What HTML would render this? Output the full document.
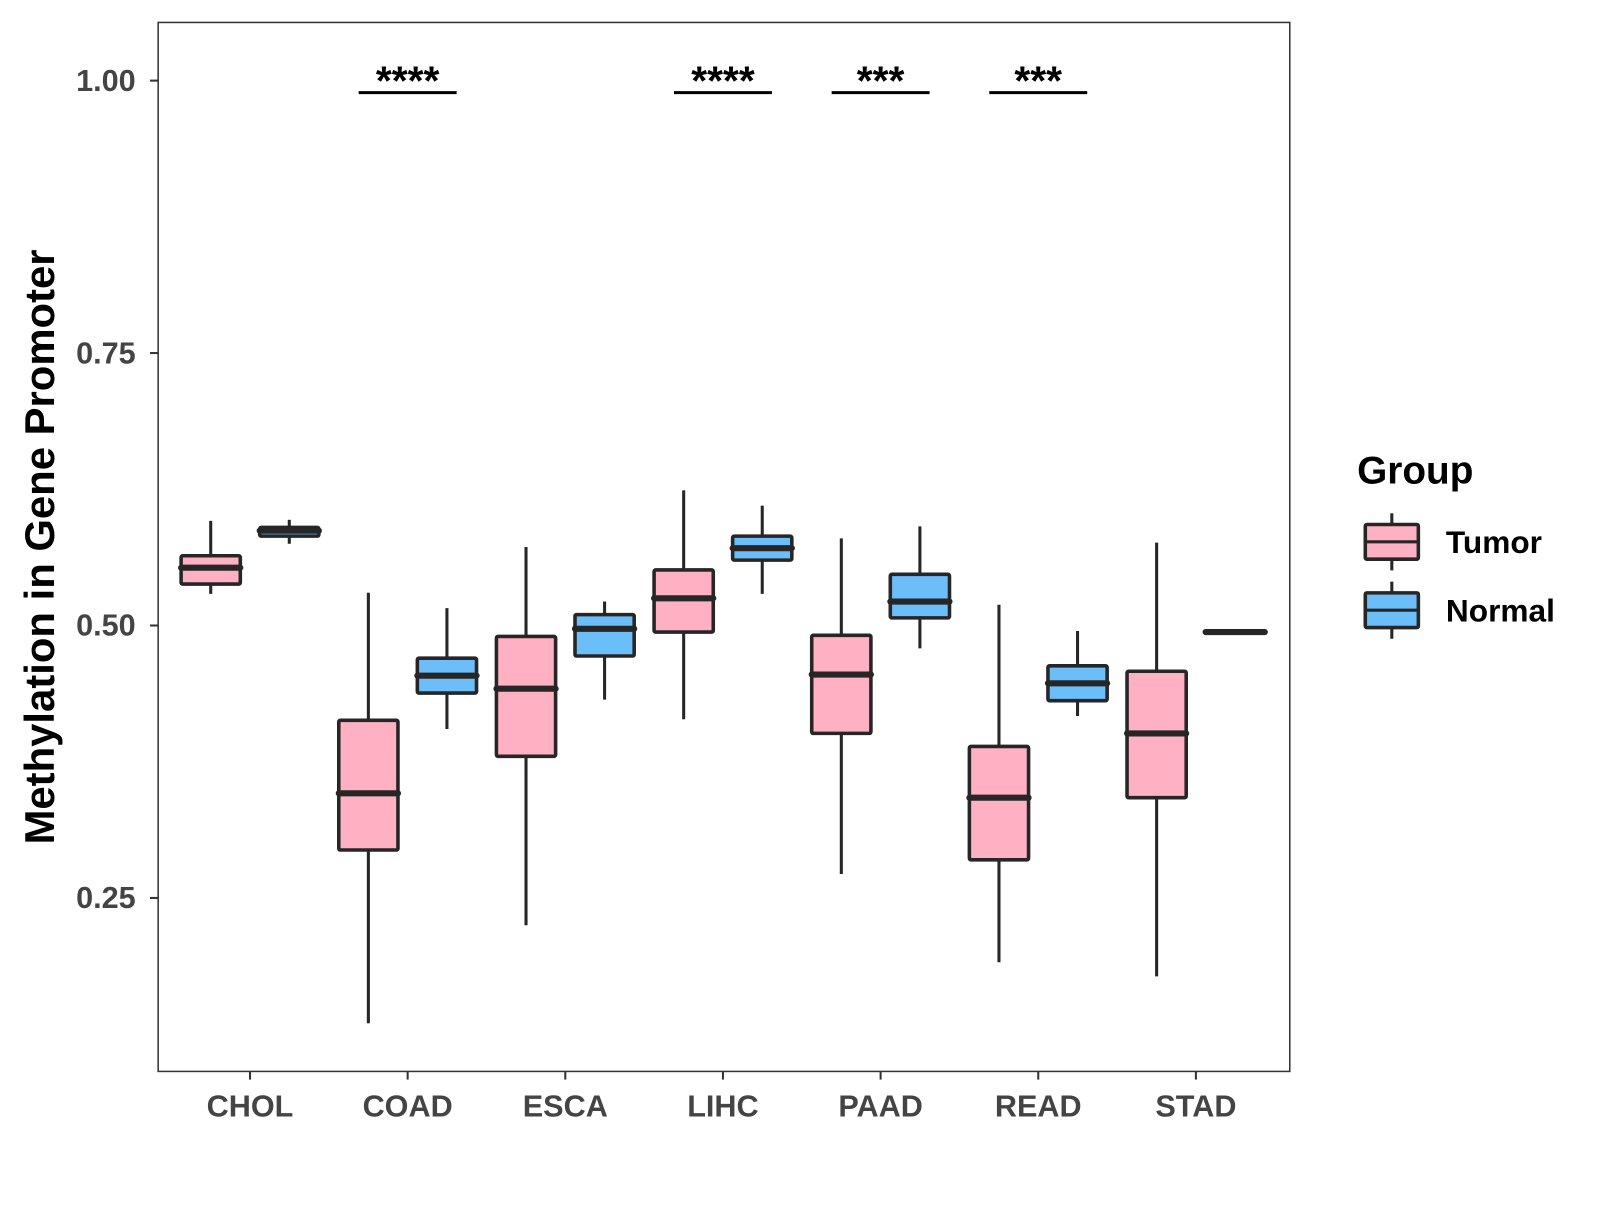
<!DOCTYPE html>
<html><head><meta charset="utf-8"><style>
body{margin:0;background:#fff;}
svg text{font-family:"Liberation Sans",Arial,sans-serif;font-weight:bold;}
</style></head><body>
<svg id="chart" width="1600" height="1200" xmlns="http://www.w3.org/2000/svg">
<rect width="1600" height="1200" fill="#fff"/>
<g id="plot" transform="scale(1.0204)"></g>
</svg>
<script>
const categories=["CHOL","COAD","ESCA","LIHC","PAAD","READ","STAD"];
// [lowWhisker, q1, median, q3, highWhisker]
const tumorStats=[[0.529,0.538,0.553,0.564,0.596],[0.135,0.294,0.346,0.413,0.530],[0.225,0.380,0.442,0.490,0.572],[0.414,0.494,0.525,0.551,0.624],[0.272,0.401,0.455,0.491,0.580],[0.191,0.285,0.342,0.389,0.519],[0.178,0.342,0.401,0.458,0.576]];
const normalStats=[[0.575,0.582,0.587,0.590,0.597],[0.405,0.438,0.454,0.470,0.516],[0.432,0.472,0.497,0.510,0.522],[0.529,0.560,0.571,0.582,0.610],[0.479,0.507,0.522,0.547,0.591],[0.417,0.431,0.447,0.463,0.495],[0.494,0.494,0.494,0.494,0.494]];
const yTicks=[0.25,0.50,0.75,1.00];
const yTickLabels=["0.25","0.50","0.75","1.00"];
const sigCats=["COAD","LIHC","PAAD","READ"];
const sigLabels=["****","****","***","***"];
const sigY=0.989;

const NS="http://www.w3.org/2000/svg";
const g=document.getElementById('plot');
const L=155,R=1264,T=22,B=1050;
const y=v=>79+(1-v)*1068;
const x=i=>245+i*154.5;
function el(tag,a,parent){const e=document.createElementNS(NS,tag);for(const k in a)e.setAttribute(k,a[k]);(parent||g).appendChild(e);return e;}

const frame=el('rect',{x:L,y:T,width:R-L,height:B-T,fill:'none',stroke:'#333','stroke-width':1.5});



yTicks.forEach((v,i)=>{
  const t=el('line',{x1:L-8,x2:L,y1:y(v),y2:y(v),stroke:'#333','stroke-width':2});
  
  
  const tx=el('text',{x:133,y:y(v)+10,'text-anchor':'end','font-size':30,fill:'#444'});
  tx.textContent=yTickLabels[i];
  
  
});
categories.forEach((c,i)=>{
  const t=el('line',{x1:x(i),x2:x(i),y1:B,y2:B+8,stroke:'#333','stroke-width':2});
  
  
  const tx=el('text',{x:x(i),y:1094,'text-anchor':'middle','font-size':30,fill:'#444'});
  tx.textContent=c;
  
  
});
function box(cx,s,fill,name){
  const w=58;
  const gg=el('g',{});
  
  
  el('line',{x1:cx,x2:cx,y1:y(s[4]),y2:y(s[0]),stroke:'#262626','stroke-width':3},gg);
  el('rect',{x:cx-w/2,y:y(s[3]),width:w,height:Math.max(y(s[1])-y(s[3]),0.1),fill:fill,stroke:'#262626','stroke-width':3.5,rx:1.5},gg);
  el('line',{x1:cx-w/2,x2:cx+w/2,y1:y(s[2]),y2:y(s[2]),stroke:'#262626','stroke-width':6,'stroke-linecap':'round'},gg);
}
categories.forEach((c,i)=>{
  box(x(i)-38.5,tumorStats[i],'#FFB0C3','box-tumor-'+c.toLowerCase());
  box(x(i)+38.5,normalStats[i],'#6CBEF8','box-normal-'+c.toLowerCase());
});
sigCats.forEach((c,k)=>{
  const i=categories.indexOf(c);
  const ln=el('line',{x1:x(i)-48,x2:x(i)+48,y1:y(sigY),y2:y(sigY),stroke:'#000','stroke-width':3});
  
  
  const tx=el('text',{x:x(i),y:y(sigY)+2,'text-anchor':'middle','font-size':40,fill:'#000'});
  tx.textContent=sigLabels[k];
  
  
});
const yt=el('text',{x:0,y:0,'text-anchor':'middle','font-size':41,fill:'#000',transform:'translate(53,536) rotate(-90)'});
yt.textContent='Methylation in Gene Promoter';



const lt=el('text',{x:1330,y:474,'font-size':38,fill:'#000'});
lt.textContent='Group';


[['Tumor','#FFB0C3',531],['Normal','#6CBEF8',598]].forEach(([n,f,cy])=>{
  const gg=el('g',{});
  
  
  el('line',{x1:1364,x2:1364,y1:cy-28,y2:cy+28,stroke:'#262626','stroke-width':3},gg);
  el('rect',{x:1338,y:cy-17,width:52,height:34,fill:f,stroke:'#262626','stroke-width':3.5,rx:1.5},gg);
  el('line',{x1:1338,x2:1390,y1:cy,y2:cy,stroke:'#262626','stroke-width':3},gg);
  const t=el('text',{x:1417,y:cy+11,'font-size':31,fill:'#000'},gg);
  t.textContent=n;
});
</script>
</body></html>
